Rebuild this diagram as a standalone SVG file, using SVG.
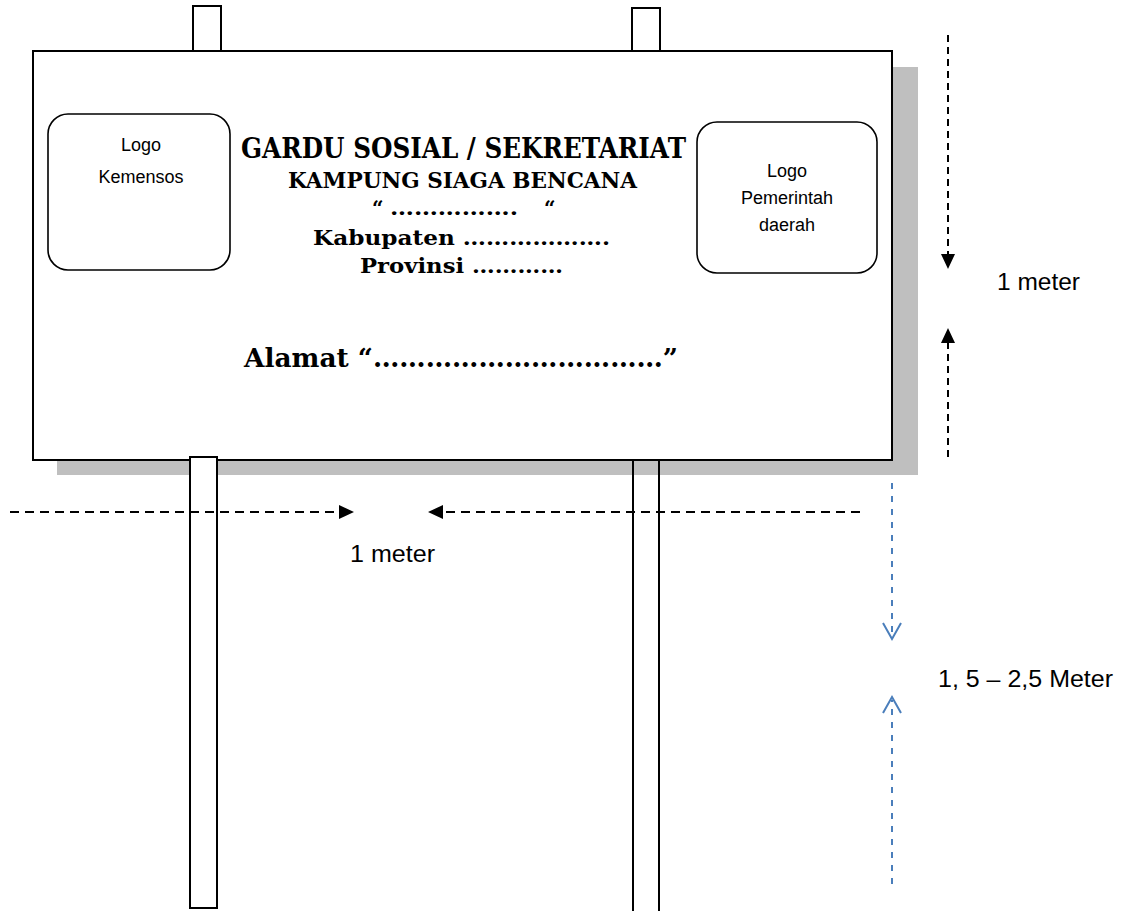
<svg xmlns="http://www.w3.org/2000/svg" width="1121" height="911" viewBox="0 0 1121 911">
<style>
.board{fill:#fff;stroke:#000;stroke-width:2}
.post{fill:#fff;stroke:#000;stroke-width:2}
.logo{fill:#fff;stroke:#000;stroke-width:1.6}
.sans{font-family:"Liberation Sans",Arial,sans-serif;fill:#000}
.serif{font-family:"DejaVu Serif","Liberation Serif",serif;font-weight:bold;fill:#000}
.dash{fill:none;stroke:#000;stroke-width:2;stroke-dasharray:9 6}
.vdash{fill:none;stroke:#000;stroke-width:2;stroke-dasharray:7 5}
.bdash{fill:none;stroke:#4a7ebb;stroke-width:2;stroke-dasharray:6 7}
.chev{fill:none;stroke:#4a7ebb;stroke-width:2}
</style>
<rect width="1121" height="911" fill="#fff"/>
<g id="signboard">
<rect x="57" y="67" width="861" height="408" fill="#bfbfbf"/>
<rect class="post" x="193" y="6" width="28" height="45"/>
<rect class="post" x="632" y="8" width="28" height="43"/>
<rect class="board" x="33" y="51" width="859" height="409"/>
<rect class="post" x="190" y="457" width="27" height="451"/>
<path d="M633 460 V912 M659 460 V912 M633 460 H659" fill="none" stroke="#000" stroke-width="2"/>
</g>
<g id="logo-kemensos">
<rect class="logo" x="48" y="114" width="182" height="156" rx="20"/>
<text class="sans" font-size="18" text-anchor="middle" x="141" y="151">Logo</text>
<text class="sans" font-size="18" text-anchor="middle" x="141" y="183">Kemensos</text>
</g>
<g id="logo-pemda">
<rect class="logo" x="697" y="122" width="180" height="151" rx="20"/>
<text class="sans" font-size="18" text-anchor="middle" x="787" y="177">Logo</text>
<text class="sans" font-size="18" text-anchor="middle" x="787" y="204">Pemerintah</text>
<text class="sans" font-size="18" text-anchor="middle" x="787" y="231">daerah</text>
</g>
<g id="title">
<text class="serif" font-size="27" x="241" y="158" textLength="445" lengthAdjust="spacingAndGlyphs">GARDU SOSIAL / SEKRETARIAT</text>
<text class="serif" font-size="22" x="288" y="188" textLength="349" lengthAdjust="spacingAndGlyphs">KAMPUNG SIAGA BENCANA</text>
<text class="serif" font-size="20" y="215"><tspan x="372">“</tspan><tspan x="390" textLength="128" lengthAdjust="spacingAndGlyphs">…………….</tspan><tspan x="544">“</tspan></text>
<text class="serif" font-size="21" x="313" y="245" textLength="297" lengthAdjust="spacingAndGlyphs">Kabupaten ……………….</text>
<text class="serif" font-size="21" x="360" y="273" textLength="203" lengthAdjust="spacingAndGlyphs">Provinsi …………</text>
<text class="serif" font-size="26" x="244" y="367" textLength="434" lengthAdjust="spacingAndGlyphs">Alamat “……………………………”</text>
</g>
<g id="connectors">
<line class="vdash" x1="948" y1="35" x2="948" y2="256"/>
<path d="M941 254 L955 254 L948 269 Z" fill="#000"/>
<line class="vdash" x1="948" y1="457" x2="948" y2="342"/>
<path d="M941 343 L955 343 L948 328 Z" fill="#000"/>
<line class="dash" x1="10" y1="512" x2="341" y2="512"/>
<path d="M339 505 L339 519 L354 512 Z" fill="#000"/>
<line class="dash" x1="860" y1="512" x2="441" y2="512"/>
<path d="M443 505 L443 519 L428 512 Z" fill="#000"/>
<line class="bdash" x1="892" y1="483" x2="892" y2="636"/>
<path class="chev" d="M883 623 L892 639 L901 623"/>
<line class="bdash" x1="892" y1="884" x2="892" y2="700"/>
<path class="chev" d="M883 713 L892 697 L901 713"/>
</g>
<g id="labels">
<text class="sans" font-size="23" x="997" y="290" textLength="83" lengthAdjust="spacingAndGlyphs">1 meter</text>
<text class="sans" font-size="23" x="350" y="562" textLength="85" lengthAdjust="spacingAndGlyphs">1 meter</text>
<text class="sans" font-size="23" x="938" y="687" textLength="175" lengthAdjust="spacingAndGlyphs">1, 5 – 2,5 Meter</text>
</g>
</svg>
